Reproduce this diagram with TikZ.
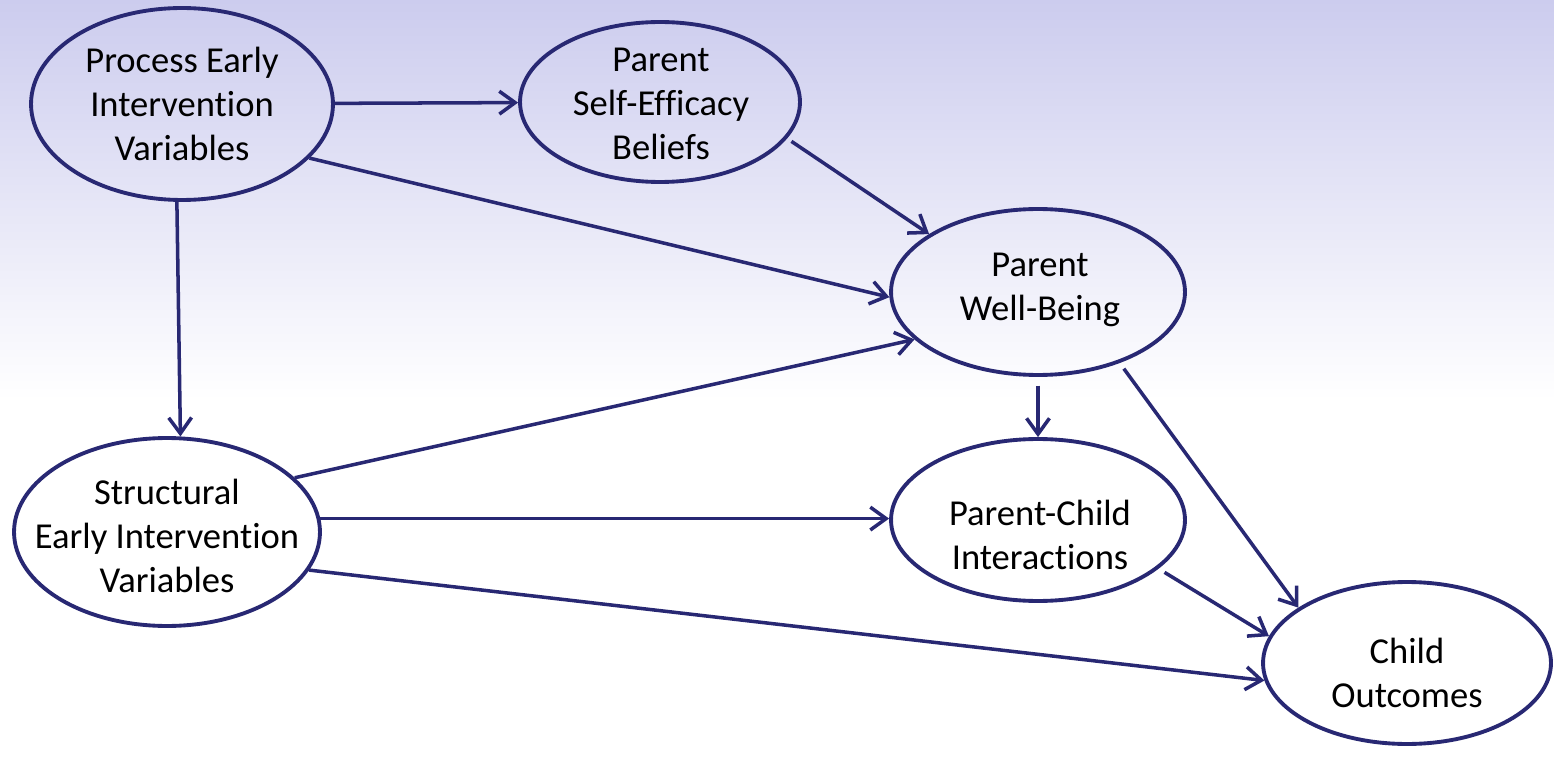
\documentclass[tikz,border=0pt]{standalone}
\usepackage{fontspec}
\setmainfont{Carlito}[Ligatures=NoCommon]
\usetikzlibrary{arrows.meta,shapes.geometric}
\definecolor{navy}{RGB}{40,40,115}
\definecolor{lavender}{RGB}{204,204,238}
\tikzset{
	var/.style = {draw=navy, line width=2.2pt, ellipse, inner sep=0pt},
	vartext/.style = {align=center, inner sep=0pt, font=\fontsize{20.8}{24.9}\selectfont},
	link/.style = {draw=navy, line width=2pt, -{Straight Barb[length=9pt,width=13pt]}}
}

\begin{document}
\begin{tikzpicture}[x=0.02cm, y=-0.02cm]
		\useasboundingbox (0,0) rectangle (1554,763);
		\shade[top color=lavender, bottom color=white] (0,0) rectangle (1554,400);
		\fill[white] (0,400) rectangle (1554,763);
		\node [var, minimum width=6.04cm, minimum height=3.84cm] (pe) at (182,104) {};
		\node [var, minimum width=5.6cm, minimum height=3.2cm] (pse) at (660,102) {};
		\node [var, minimum width=5.88cm, minimum height=3.32cm] (pwb) at (1038,292) {};
		\node [var, minimum width=6.12cm, minimum height=3.76cm] (sei) at (167,532) {};
		\node [var, minimum width=5.88cm, minimum height=3.24cm] (pci) at (1038,520) {};
		\node [var, minimum width=5.76cm, minimum height=3.24cm] (co) at (1407,663) {};
		\node [vartext] (pe-t) at (182,104) {Process Early\\Intervention\\Variables};
		\node [vartext] (pse-t) at (661,104) {Parent\\Self-Efficacy\\Beliefs};
		\node [vartext] (pwb-t) at (1040,290) {Parent\\Well-Being};
		\node [vartext] (sei-t) at (167,536) {Structural\\Early Intervention\\Variables};
		\node [vartext] (pci-t) at (1040,535) {Parent-Child\\Interactions};
		\node [vartext] (co-t) at (1407,673) {Child\\Outcomes};
		\draw [link] (pe) -- (pse);
		\draw [link] (pe.-23) -- (pwb.182);
		\draw [link] (pe.-93.5) -- (sei.82);
		\draw [link, shorten <=3pt] (pse.-16.5) -- (pwb.152);
		\draw [link] (sei.23.7) -- (pwb.201.3);
		\draw [link] (sei.5) -- (sei.5 -| pci.west);
		\draw [link] (sei.-15.1) -- (co.187.9);
		\draw [link, shorten <=5pt] (pwb) -- (pci);
		\draw [link, shorten <=4pt] (pwb.-41.6) -- (co.153);
		\draw [link, shorten <=4pt] (pci.-22.6) -- (co.169.3);
	\end{tikzpicture}
\end{document}
